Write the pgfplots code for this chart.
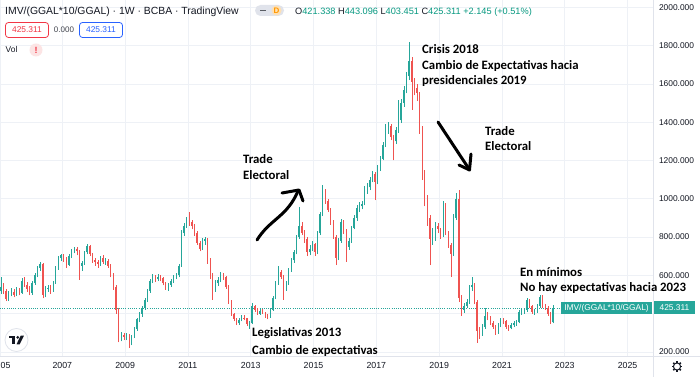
\documentclass[border=0pt]{standalone}
\usepackage{pgfplots}
\pgfplotsset{compat=1.18}
\usepackage{pgfplotstable}
\usepackage{fontspec}
\setmainfont{Liberation Sans}
\newfontfamily\annfont{Carlito}
\definecolor{upc}{RGB}{38,166,154}
\definecolor{dnc}{RGB}{239,83,80}
\definecolor{gridc}{RGB}{238,241,246}
\definecolor{linec}{RGB}{224,227,235}
\definecolor{txtc}{RGB}{19,23,34}
\definecolor{ohlc}{RGB}{8,153,129}
\definecolor{redb}{RGB}{242,54,69}
\definecolor{blueb}{RGB}{41,98,255}
\definecolor{pillc}{RGB}{224,227,235}
\definecolor{orgc}{RGB}{255,152,0}
\definecolor{orgbg}{RGB}{255,224,178}
\definecolor{pinkc}{RGB}{252,228,228}

\pgfplotstableread{
t o h l c
2005.04 520 592 505 540
2005.13 540 560 505 520
2005.21 520 530 465 475
2005.29 475 520 468 505
2005.38 505 535 490 515
2005.46 515 528 485 500
2005.54 500 540 492 520
2005.63 520 535 495 510
2005.71 510 585 505 570
2005.79 570 590 540 550
2005.88 550 565 515 530
2005.96 530 545 495 508
2006.04 508 570 500 560
2006.13 560 615 550 600
2006.21 600 650 590 640
2006.29 640 668 625 660
2006.38 660 665 480 495
2006.46 495 545 485 530
2006.54 530 550 515 535
2006.63 535 548 505 525
2006.71 525 570 515 560
2006.79 560 648 555 640
2006.88 640 700 630 690
2006.96 690 712 675 705
2007.04 705 712 670 690
2007.13 690 695 640 655
2007.21 655 710 650 700
2007.29 700 740 690 730
2007.38 730 750 715 740
2007.46 740 748 705 725
2007.54 725 732 576 650
2007.63 650 675 625 665
2007.71 665 728 655 720
2007.79 720 765 710 755
2007.88 755 760 700 710
2007.96 710 715 665 680
2008.04 680 690 650 670
2008.13 670 680 640 660
2008.21 660 700 650 690
2008.29 690 705 660 670
2008.38 670 690 655 675
2008.46 675 685 640 650
2008.54 650 660 590 600
2008.63 600 610 525 540
2008.71 540 550 400 420
2008.79 420 430 250 270
2008.88 270 305 255 290
2008.96 290 300 262 280
2009.04 280 300 262 290
2009.13 290 295 220 245
2009.21 245 290 235 280
2009.29 280 330 272 320
2009.38 320 380 310 370
2009.46 370 410 355 400
2009.54 400 440 385 430
2009.63 430 480 420 470
2009.71 470 530 460 520
2009.79 520 580 510 570
2009.88 570 605 560 595
2009.96 595 600 565 580
2010.04 580 605 570 592
2010.13 592 600 570 585
2010.21 585 590 548 560
2010.29 560 568 525 540
2010.38 540 560 520 550
2010.46 550 580 540 570
2010.54 570 600 560 592
2010.63 592 612 580 600
2010.71 600 660 590 650
2010.79 650 835 645 820
2010.88 820 875 805 860
2010.96 860 905 850 890
2011.04 890 931 860 880
2011.13 880 890 840 860
2011.21 860 870 805 820
2011.29 820 830 760 770
2011.38 770 780 725 740
2011.46 740 795 735 780
2011.54 780 800 760 790
2011.63 790 795 660 680
2011.71 680 690 580 600
2011.79 600 610 472 530
2011.88 530 575 515 560
2011.96 560 590 545 575
2012.04 575 620 565 605
2012.13 605 615 575 590
2012.21 590 595 530 540
2012.29 540 548 450 460
2012.38 460 470 390 400
2012.46 400 405 360 370
2012.54 370 375 340 350
2012.63 350 380 342 365
2012.71 365 395 360 380
2012.79 380 392 365 375
2012.88 375 380 335 345
2012.96 345 360 320 350
2013.04 350 458 345 440
2013.13 440 445 410 420
2013.21 420 428 392 400
2013.29 400 430 395 415
2013.38 415 425 398 405
2013.46 405 410 380 390
2013.54 390 398 370 385
2013.63 385 430 380 420
2013.71 420 490 415 480
2013.79 480 570 475 560
2013.88 560 650 550 620
2013.96 620 630 580 590
2014.04 590 600 472 530
2014.13 530 570 520 560
2014.21 560 640 550 630
2014.29 630 690 620 680
2014.38 680 730 665 720
2014.46 720 810 710 800
2014.54 800 957 790 860
2014.63 860 880 810 820
2014.71 820 835 770 790
2014.79 790 800 700 720
2014.88 720 760 705 740
2014.96 740 780 725 765
2015.04 765 770 700 720
2015.13 720 830 710 820
2015.21 820 930 810 920
2015.29 920 1072 910 1040
2015.38 1040 1050 975 990
2015.46 990 1000 930 940
2015.54 940 950 865 880
2015.63 880 890 790 800
2015.71 800 810 654 690
2015.79 690 795 680 780
2015.88 780 895 770 880
2015.96 880 890 815 830
2016.04 830 840 670 750
2016.13 750 795 735 780
2016.21 780 860 770 850
2016.29 850 915 840 900
2016.38 900 965 885 950
2016.46 950 985 930 960
2016.54 960 990 945 975
2016.63 975 1065 965 1050
2016.71 1050 1080 1025 1060
2016.79 1060 1115 1045 1100
2016.88 1100 1145 1085 1130
2016.96 1130 1140 993 1085
2017.04 1085 1175 1075 1160
2017.13 1160 1225 1145 1210
2017.21 1210 1295 1200 1280
2017.29 1280 1390 1270 1370
2017.38 1370 1400 1340 1380
2017.46 1380 1390 1305 1320
2017.54 1320 1335 1200 1300
2017.63 1300 1375 1285 1360
2017.71 1360 1516 1345 1410
2017.79 1410 1520 1395 1500
2017.88 1500 1590 1480 1570
2017.96 1570 1660 1550 1640
2018.04 1640 1819 1620 1720
2018.13 1720 1740 1464 1610
2018.21 1610 1630 1540 1580
2018.29 1580 1600 1510 1550
2018.38 1550 1560 1340 1360
2018.46 1360 1380 1100 1130
2018.54 1130 1150 960 1000
2018.63 1000 1020 860 900
2018.71 900 915 654 790
2018.79 790 850 760 800
2018.88 800 880 780 860
2018.96 860 875 820 840
2019.04 840 850 790 810
2019.13 810 990 800 970
2019.21 970 980 810 820
2019.29 820 830 745 760
2019.38 760 770 592 710
2019.46 710 920 700 900
2019.54 900 1030 890 1000
2019.63 1000 1046 460 480
2019.71 480 500 390 420
2019.79 420 455 405 440
2019.88 440 475 430 460
2019.96 460 550 450 540
2020.04 540 592 520 550
2020.13 550 560 450 460
2020.21 460 470 247 310
2020.29 310 330 270 300
2020.38 300 345 285 330
2020.46 330 430 320 390
2020.54 390 410 365 380
2020.63 380 390 340 350
2020.71 350 360 320 330
2020.79 330 340 290 300
2020.88 300 350 295 340
2020.96 340 380 330 370
2021.04 370 375 345 360
2021.13 360 365 320 330
2021.21 330 340 310 325
2021.29 325 350 318 340
2021.38 340 360 330 350
2021.46 350 365 338 355
2021.54 355 420 350 410
2021.63 410 428 395 415
2021.71 415 430 400 420
2021.79 420 480 410 470
2021.88 470 478 430 440
2021.96 440 445 400 410
2022.04 410 425 395 412
2022.13 412 450 405 440
2022.21 440 495 430 485
2022.29 485 495 430 440
2022.38 440 450 420 430
2022.46 430 440 390 400
2022.54 400 410 345 355
2022.63 355 443.096 350 425.311
}\candles

\pgfplotsset{
  candleup/.style={restrict expr to domain={\thisrow{c}-\thisrow{o}}{0:100000}},
  candledn/.style={restrict expr to domain={\thisrow{c}-\thisrow{o}}{-100000:-0.001}},
}

\begin{document}
\begin{tikzpicture}[x=1pt,y=1pt]
\useasboundingbox (0,0) rectangle (700,377);
\fill[white] (0,0) rectangle (700,377);
\begin{axis}[
  at={(0pt,21pt)}, anchor=south west,
  scale only axis, width=653pt, height=356pt,
  xmin=2005.016, xmax=2025.81, ymin=179, ymax=2038,
  axis line style={draw=none},
  xtick={2007,2009,...,2025},
  xticklabels={2007,2009,2011,2013,2015,2017,2019,2021,2023,2025},
  extra x ticks={2005.016}, extra x tick labels={},
  ytick={200,400,...,2000},
  yticklabels={200.000,,600.000,800.000,1000.000,1200.000,1400.000,1600.000,1800.000,2000.000},
  yticklabel pos=right,
  grid=major, major grid style={draw=gridc, line width=0.7pt},
  major tick length=0pt, tick style={draw=none},
  xticklabel style={font=\fontsize{8.8}{10}\selectfont, text=txtc, yshift=-3pt},
  yticklabel style={font=\fontsize{8.4}{10}\selectfont, text=txtc, xshift=2.5pt},
]
\addplot[draw=upc, line width=0.8pt, dash pattern=on 1pt off 1.2pt] coordinates {(2005.016,425.311) (2025.81,425.311)};
\addplot[candleup, upc, line width=0.5pt, -, quiver={u=0, v=\thisrow{h}-\thisrow{l}}] table[x=t, y=l] {\candles};
\addplot[candledn, dnc, line width=0.5pt, -, quiver={u=0, v=\thisrow{h}-\thisrow{l}}] table[x=t, y=l] {\candles};
\addplot[candleup, upc, line width=1.35pt, -, quiver={u=0, v=\thisrow{c}-\thisrow{o}}] table[x=t, y=o] {\candles};
\addplot[candledn, dnc, line width=1.35pt, -, quiver={u=0, v=\thisrow{c}-\thisrow{o}}] table[x=t, y=o] {\candles};
\end{axis}
% the 2005 label, cut by the left edge in the reference: only "05" shows
\node[anchor=west, inner sep=0, text=txtc, font=\fontsize{8.8}{10}\selectfont] at (0.5,11.6) {05};
% borders
\draw[linec, line width=0.7pt] (0,21) -- (700,21);
\draw[linec, line width=0.7pt] (653.5,0) -- (653.5,377);
% badges
\fill[upc] (561,63) rectangle (652,75);
\node[text=white, font=\fontsize{8.4}{10}\selectfont] at (606.5,69) {IMV/(GGAL*10/GGAL)};
\fill[upc] (654,62.5) rectangle (695,75.5);
\node[text=white, font=\fontsize{8.4}{10}\selectfont] at (674.5,69) {425.311};
% header
\node[anchor=base west, inner sep=0, text=txtc, font=\fontsize{10.4}{12}\selectfont] at (5,362.5) {IMV/(GGAL*10/GGAL) · 1W · BCBA · TradingView};
\fill[pillc, rounded corners=5.5pt] (255,361) rectangle (284,372);
\draw[txtc!70, line width=1.3pt] (260,366.5) -- (266,366.5);
\fill[orgbg] (276.5,366.5) circle (5);
\node[text=orgc, font=\bfseries\fontsize{8}{9}\selectfont] at (276.5,366.5) {D};
\node[anchor=base west, inner sep=0, font=\fontsize{9.2}{11}\selectfont] at (295,362.5) {\textcolor{txtc}{O}\textcolor{ohlc}{421.338} \textcolor{txtc}{H}\textcolor{ohlc}{443.096} \textcolor{txtc}{L}\textcolor{ohlc}{403.451} \textcolor{txtc}{C}\textcolor{ohlc}{425.311} \textcolor{ohlc}{+2.145 (+0.51\%)}};
\draw[redb, line width=0.8pt, rounded corners=3pt] (5.5,339.5) rectangle (48.5,354.5);
\node[text=redb, font=\fontsize{8.4}{10}\selectfont] at (27,347) {425.311};
\node[text=txtc!80, font=\fontsize{8}{10}\selectfont] at (64,347) {0.000};
\draw[blueb, line width=0.8pt, rounded corners=3pt] (79.5,339.5) rectangle (122.5,354.5);
\node[text=blueb, font=\fontsize{8.4}{10}\selectfont] at (101,347) {425.311};
\node[anchor=west, inner sep=0, text=txtc, font=\fontsize{8.4}{10}\selectfont] at (5.5,327) {Vol};
\fill[pinkc] (36,327) circle (6.5);
\node[text=redb, font=\bfseries\fontsize{9}{10}\selectfont] at (36,327) {!};
% TV logo
\filldraw[fill=white, draw=linec, line width=0.8pt] (16.5,37) circle (11.5);
\begin{scope}[shift={(16.5,37)}]
\fill[txtc] (-8,2) rectangle (-1.8,4.3);
\fill[txtc] (-4.3,2) rectangle (-1.8,-4.3);
\fill[txtc] (1.2,2.6) circle (1.5);
\fill[txtc] (4.2,4.3) -- (7.4,4.3) -- (3.2,-4.3) -- (0,-4.3) -- cycle;
\end{scope}
% gear
\begin{scope}[shift={(677,10.5)}]
\draw[txtc, line width=1pt] (0,0) circle (3.6);
\foreach \a in {0,45,...,315} {\draw[txtc, line width=1.6pt] (\a:3.8) -- (\a:5.3);}
\fill[white] (0,0) circle (1.6);
\end{scope}
% annotations
\begin{scope}[every node/.style={anchor=base west, inner sep=0, text=black, font=\annfont\bfseries\fontsize{12.8}{14}\selectfont}]
\node at (422,323) {Crisis 2018};
\node at (422,307.5) {Cambio de Expectativas hacia};
\node at (422,292) {presidenciales 2019};
\node at (485,241) {Trade};
\node at (485,226) {Electoral};
\node at (243,213) {Trade};
\node at (243,197.5) {Electoral};
\node at (252,41) {Legislativas 2013};
\node at (252,23) {Cambio de expectativas};
\node at (520,100) {En mínimos};
\node at (520,85) {No hay expectativas hacia 2023};
\end{scope}
% arrows
\draw[line width=3pt, line cap=round, line join=round] (438,255) -- (469,208);
\draw[line width=3pt, line cap=round, line join=round] (459,212) -- (469.5,207) -- (471,223);
\draw[line width=3pt, line cap=round, line join=round] (257,137) .. controls (270,158) and (287,160) .. (298,186);
\draw[line width=3pt, line cap=round, line join=round] (282,184) -- (299,187) -- (303,176);
\end{tikzpicture}
\end{document}
